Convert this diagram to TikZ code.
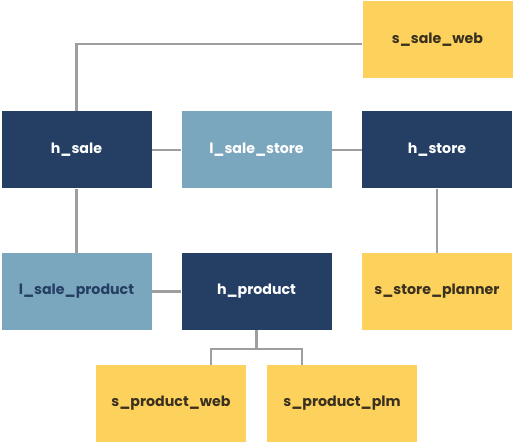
\documentclass[tikz,border=0pt]{standalone}
\usepackage{fontspec}
\setmainfont{Poppins}
\usepackage{tikz}
\usetikzlibrary{positioning,calc}
\definecolor{navyDV}{RGB}{36,63,99}
\definecolor{steelDV}{RGB}{123,167,190}
\definecolor{goldDV}{RGB}{253,210,92}
\definecolor{inkDV}{RGB}{58,48,32}
\colorlet{LinkGray}{black!38}

\begin{document}
\begin{tikzpicture}[x=1pt,y=-1pt,
      tbl/.style={minimum width=150pt,minimum height=77pt,inner sep=0pt,font=\bfseries\fontsize{14.2}{16}\selectfont},
      hub/.style={tbl,fill=navyDV,text=white},
      lnk/.style={tbl,fill=steelDV},
      sat/.style={tbl,fill=goldDV,text=inkDV},
      link/.style={line width=2.8pt,LinkGray}
    ]
    \useasboundingbox (0,0) rectangle (515,444);
    \node[sat] (ssw) at (437.5,40) {s\_sale\_web};
    \node[hub] (hsale) at (76.5,150) {h\_sale};
    \node[lnk,text=white] (lss) at (256.5,150) {l\_sale\_store};
    \node[hub] (hstore) at (437,150) {h\_store};
    \node[lnk,text=navyDV] (lsp) at (76.5,291.5) {l\_sale\_product};
    \node[hub] (hprod) at (256.5,291.5) {h\_product};
    \node[sat] (ssp) at (437,291.5) {s\_store\_planner};
    \node[sat] (spw) at (171,403.5) {s\_product\_web};
    \node[sat] (spp) at (342,403.5) {s\_product\_plm};
    \coordinate (fork) at (256.5,349);
    \draw[link] (hsale.north) |- ([yshift=-4pt]ssw.west);
    \draw[link] (hsale) -- (lss);
    \draw[link] (lss) -- (hstore);
    \draw[link] (hsale) -- (lsp);
    \draw[link] (hstore) -- (ssp);
    \draw[link] (lsp) -- (hprod);
    \draw[link] (hprod.south) -- (fork);
    \draw[link] ([xshift=40pt]spw.north) |- (fork) -| ([xshift=-40pt]spp.north);
  \end{tikzpicture}
\end{document}
